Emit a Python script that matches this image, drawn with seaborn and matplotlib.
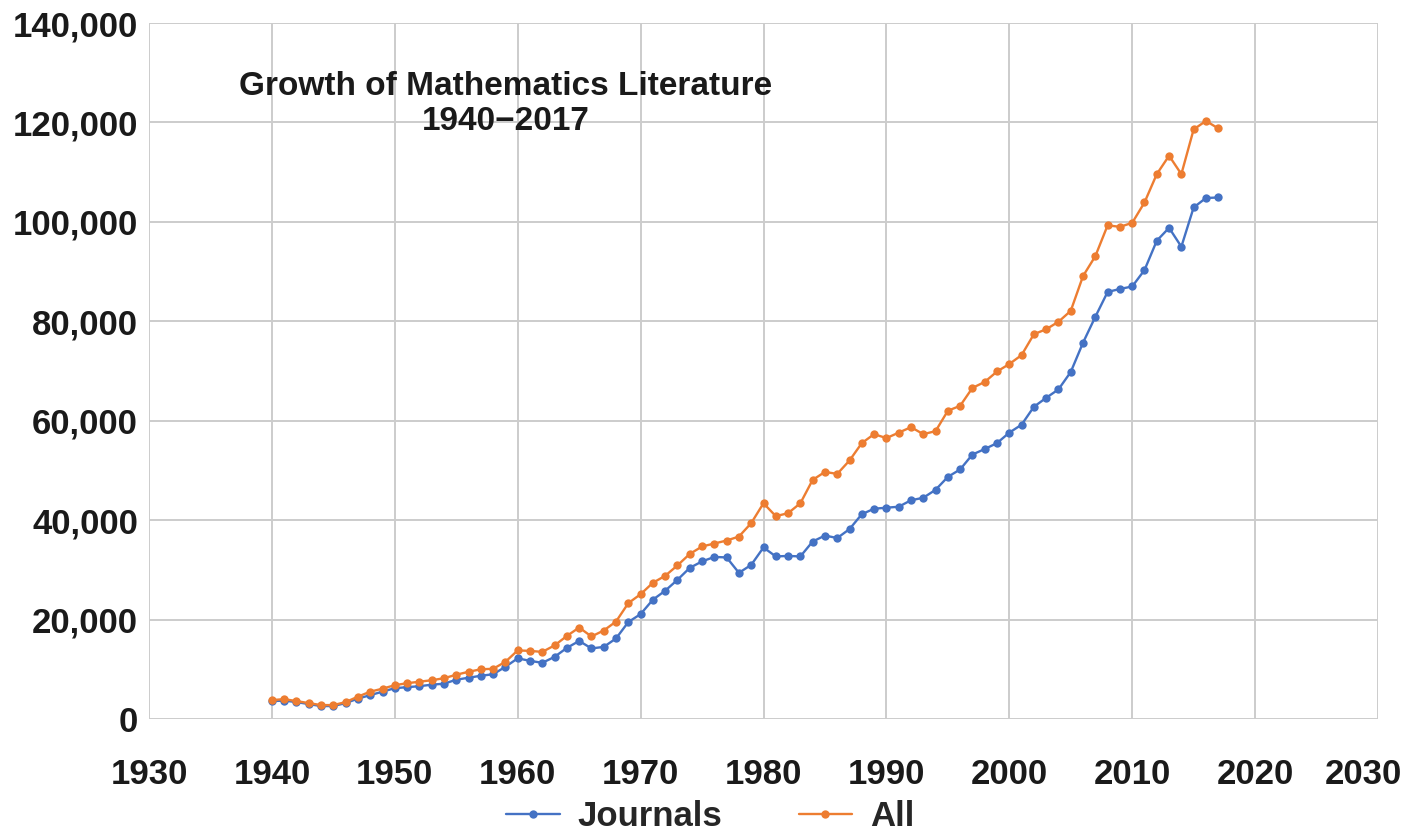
import pandas as pd
import matplotlib
matplotlib.use("Agg")
import matplotlib.pyplot as plt
import matplotlib.transforms as mtransforms
import seaborn as sns

# Data
years = list(range(1940, 2018))

journals = [3600, 3700, 3400, 3000, 2600, 2600, 3200, 4100, 4800, 5500,
            6200, 6400, 6600, 6900, 7100, 7900, 8300, 8700, 9000, 10500,
            12200, 11700, 11300, 12500, 14300, 15700, 14200, 14500, 16200, 19500,
            21100, 24000, 25800, 28000, 30400, 31700, 32600, 32500, 29400, 31000,
            34500, 32700, 32800, 32700, 35700, 36900, 36400, 38200, 41200, 42300,
            42500, 42700, 44000, 44500, 46100, 48700, 50200, 53200, 54300, 55500,
            57600, 59200, 62800, 64600, 66300, 69800, 75700, 80900, 85900, 86500,
            87000, 90300, 96200, 98800, 95000, 102900, 104800, 104900]

all_items = [3800, 4000, 3600, 3200, 2800, 2800, 3400, 4500, 5500, 6100,
             6800, 7200, 7500, 7800, 8200, 8900, 9500, 10000, 10100, 11500,
             13800, 13700, 13500, 14800, 16700, 18400, 16600, 17800, 19600, 23300,
             25100, 27400, 28800, 30900, 33200, 34700, 35300, 35900, 36700, 39400,
             43400, 40800, 41400, 43400, 48100, 49700, 49300, 52000, 55500, 57300,
             56500, 57600, 58700, 57300, 57900, 62000, 63000, 66600, 67800, 69900,
             71400, 73200, 77400, 78400, 79900, 82100, 89100, 93100, 99300, 99000,
             99800, 103900, 109600, 113300, 109600, 118600, 120300, 118800]

series_names = ["Journals", "All"]
colors = {"Journals": "#4472C4", "All": "#ED7D31"}

df = pd.DataFrame({
    "Year": years * 2,
    "Count": journals + all_items,
    "Series": ["Journals"] * len(years) + ["All"] * len(years),
})

sns.set_theme(style="whitegrid")
plt.rcParams["font.family"] = ["Liberation Sans", "DejaVu Sans"]

fig = plt.figure(figsize=(14.09, 8.33), dpi=100)
ax = fig.add_axes([149 / 1409, 1 - 719 / 833, 1229 / 1409, 696 / 833])

sns.lineplot(data=df, x="Year", y="Count", hue="Series", hue_order=series_names,
             palette=colors, marker="o", markersize=6, markeredgewidth=0,
             linewidth=1.7, ax=ax)

ax.set_xlim(1930, 2030)
ax.set_ylim(0, 140000)
ax.set_xticks(range(1930, 2031, 10))
ax.set_yticks(range(0, 140001, 20000))
ax.set_yticklabels([f"{v:,}" for v in range(0, 140001, 20000)])
ax.set_xlabel("")
ax.set_ylabel("")
ax.grid(True, color="#cccccc", linewidth=1.4)
for s in ax.spines.values():
    s.set_visible(False)
ax.tick_params(axis="both", labelsize=25, length=0, colors="#1a1a1a")
ax.tick_params(axis="y", pad=8)
ax.tick_params(axis="x", pad=28)
for lbl in ax.get_xticklabels() + ax.get_yticklabels():
    lbl.set_fontweight("bold")

# last year label sits a bit inside the figure edge, as in the original
last = ax.get_xticklabels()[-1]
last.set_transform(last.get_transform() +
                   mtransforms.ScaledTranslation(-0.15, 0, fig.dpi_scale_trans))

ax.text(1959.05, 123700, "Growth of Mathematics Literature\n1940\u22122017",
        ha="center", va="center", fontsize=24, fontweight="bold",
        color="#1a1a1a", linespacing=1.15)

handles, labels = ax.get_legend_handles_labels()
ax.get_legend().remove()
fig.legend(handles, labels, loc="lower center", bbox_to_anchor=(0.504, 0.0),
           ncol=2, frameon=False, prop={"size": 25, "weight": "bold"},
           handlelength=1.55, columnspacing=2.2, handletextpad=0.5,
           borderpad=0, borderaxespad=0)

fig.savefig("out.png", dpi=100)
